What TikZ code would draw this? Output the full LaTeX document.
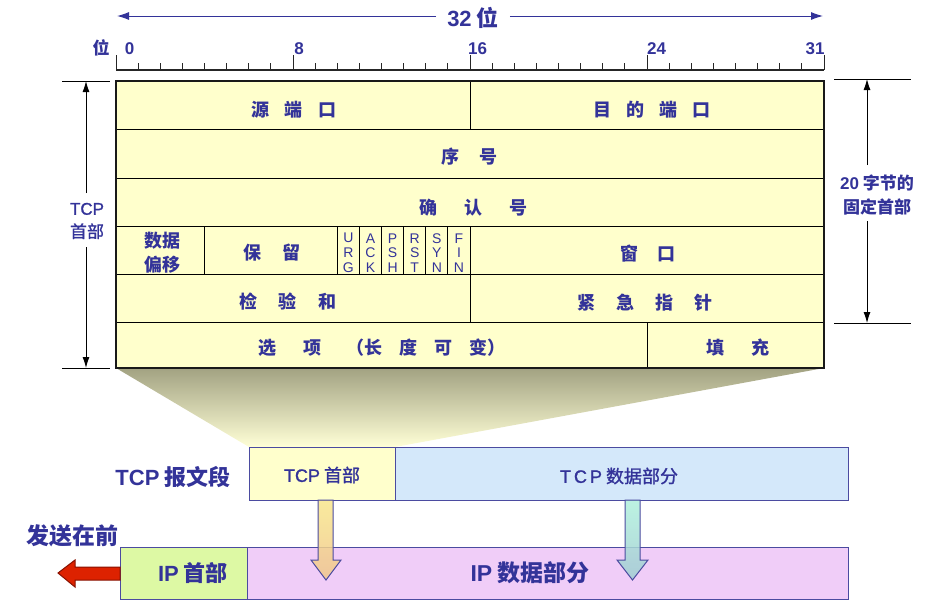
\documentclass[tikz,border=0pt]{standalone}
\usepackage{fontspec}
\setmainfont{Noto Sans CJK SC}
\newfontfamily\lat{Liberation Sans}
\newfontfamily\medfont{Noto Sans CJK SC}[FakeBold=1.2]
\newfontfamily\latmed{Liberation Sans}[FakeBold=1.2]
\usetikzlibrary{arrows.meta,calc}
\definecolor{tblue}{HTML}{333399}
\definecolor{cellfill}{HTML}{FFFFCC}
\definecolor{boxline}{HTML}{4B4BA0}
\definecolor{tcpdata}{HTML}{D4E8FA}
\definecolor{iphead}{HTML}{DDF9A4}
\definecolor{ipdata}{HTML}{F0CDF8}
\definecolor{shadowtop}{HTML}{A2A282}
\definecolor{redfill}{HTML}{DD2200}
\definecolor{redline}{HTML}{881100}
\definecolor{orgtop}{RGB}{248,230,140}
\definecolor{orgbot}{RGB}{240,198,140}
\definecolor{cyntop}{RGB}{176,240,220}
\definecolor{cynbot}{RGB}{160,205,210}
\tikzset{
  lbl/.style={text=tblue, inner sep=0pt, font=\bfseries\fontsize{18}{20}\selectfont},
  flag/.style={text=tblue, inner sep=0pt, align=center, font=\lat\fontsize{14}{14.8}\selectfont},
  tline/.style={line width=1pt, black},
  dimline/.style={line width=0.9pt, black},
  dimarrow/.style={line width=0.9pt, black, -{Latex[length=11pt,width=7pt]}},
  bitarrow/.style={line width=1pt, tblue, -{Latex[length=12pt,width=8pt]}},
  segbox/.style={draw=boxline, line width=1.2pt, inner sep=0pt, anchor=north west},
  blockarrow/.style={draw=boxline, line width=1pt, fill opacity=0.85},
}
\begin{document}
\begin{tikzpicture}[x=1pt,y=-1pt]
\useasboundingbox (0,0) rectangle (936,606);

% ---- top "32 bit" arrow
\node[text=tblue, font=\bfseries\fontsize{22}{24}\selectfont, inner xsep=11pt, inner ysep=0pt] (bits) at (473,18) {{\lat 32} 位};
\coordinate (bitL) at (117,16);
\coordinate (bitR) at (823,16);
\draw[bitarrow] (bits.west |- bitL) -- (bitL);
\draw[bitarrow] (bits.east |- bitR) -- (bitR);

% ---- ruler
\draw[line width=1.2pt, black!85] (116,70) -- (824,70);
\foreach \i in {0,...,32}{
  \pgfmathsetmacro{\xx}{116+22.125*\i}
  \pgfmathparse{int(mod(\i,8))}
  \ifnum\pgfmathresult=0
    \draw[line width=1pt, black!85] (\xx,55) -- (\xx,70);
  \else
    \draw[line width=1pt, black!85] (\xx,63) -- (\xx,70);
  \fi
}
\node[lbl, font=\bfseries\fontsize{17}{19}\selectfont] (wei) at (101,48) {位};
\node[lbl, font=\lat\bfseries\fontsize{17}{19}\selectfont] (b0) at (129.5,49) {0};
\node[lbl, font=\lat\bfseries\fontsize{17}{19}\selectfont] (b8) at (299,49) {8};
\node[lbl, font=\lat\bfseries\fontsize{17}{19}\selectfont] (b16) at (477.5,49) {16};
\node[lbl, font=\lat\bfseries\fontsize{17}{19}\selectfont] (b24) at (656.5,49) {24};
\node[lbl, font=\lat\bfseries\fontsize{17}{19}\selectfont] (b31) at (815,49) {31};

% ---- shadow funnel
\shade[top color=shadowtop, bottom color=cellfill!80!white] (116,368) -- (824,368) -- (395,447) -- (249,447) -- cycle;

% ---- header table
\fill[cellfill] (116,81) rectangle (824,368);
\foreach \yy in {129,178,226,274,322}{\draw[tline] (116,\yy) -- (824,\yy);}
\draw[tline] (470,81) -- (470,129);
\foreach \xx in {204.5,337.25,359.4,381.5,403.6,425.75,447.9}{\draw[tline] (\xx,226) -- (\xx,274);}
\draw[tline] (470,226) -- (470,322);
\draw[tline] (647,322) -- (647,368);
\draw[line width=2.2pt, black!90] (116,81) rectangle (824,368);

\node[lbl] (src) at (294,110) {源\hspace{16pt}端\hspace{16pt}口};
\node[lbl] (dst) at (652,110) {目\hspace{15pt}的\hspace{15pt}端\hspace{15pt}口};
\node[lbl] (seq) at (469,157) {序\hspace{20pt}号};
\node[lbl] (ack) at (473,208) {确\hspace{27pt}认\hspace{27pt}号};
\node[lbl, align=center, font=\bfseries\fontsize{18}{24}\selectfont] (doff) at (162,253) {数据\\偏移};
\node[lbl] (resv) at (272,253) {保\hspace{21pt}留};
\node[flag] (fU) at (348.4,253) {U\\R\\G};
\node[flag] (fA) at (370.5,253) {A\\C\\K};
\node[flag] (fP) at (392.6,253) {P\\S\\H};
\node[flag] (fR) at (414.7,253) {R\\S\\T};
\node[flag] (fS) at (436.8,253) {S\\Y\\N};
\node[flag] (fF) at (459,253) {F\\I\\N};
\node[lbl] (win) at (648,254) {窗\hspace{19pt}口};
\node[lbl] (csum) at (288,302) {检\hspace{22pt}验\hspace{22pt}和};
\node[lbl] (urgp) at (645,303) {紧\hspace{21pt}急\hspace{21pt}指\hspace{21pt}针};
\node[lbl] (opts) at (382,348) {选\hspace{27pt}项\hspace{26pt}（长\hspace{17pt}度\hspace{17pt}可\hspace{17pt}变）};
\node[lbl] (pad) at (737.5,348) {填\hspace{27pt}充};

% ---- left dimension: TCP header
\node[text=tblue, align=center, inner sep=0pt, font=\medfont\fontsize{17}{23}\selectfont] (tcplab) at (87,221) {{\latmed TCP}\\首部};
\coordinate (lt) at (86,81);
\coordinate (lb) at (86,368);
\coordinate (ltg) at (86,193);
\coordinate (lbg) at (86,247);
\draw[dimline] (62,81) -- (110,81);
\draw[dimline] (62,368) -- (110,368);
\draw[dimarrow] (ltg) -- (lt);
\draw[dimarrow] (lbg) -- (lb);

% ---- right dimension: 20 bytes
\node[text=tblue, align=center, inner sep=0pt, font=\bfseries\fontsize{17}{24}\selectfont] (fixlab) at (877,195) {{\lat 20} 字节的\\固定首部};
\coordinate (rt) at (867,79);
\coordinate (rb) at (867,323);
\coordinate (rtg) at (867,165);
\coordinate (rbg) at (867,221);
\draw[dimline] (834,79) -- (911,79);
\draw[dimline] (834,323) -- (911,323);
\draw[dimarrow] (rtg) -- (rt);
\draw[dimarrow] (rbg) -- (rb);

% ---- TCP segment
\node[segbox, fill=cellfill, minimum width=146pt, minimum height=53pt] (tcph) at (249,447) {};
\node[segbox, fill=tcpdata, minimum width=453pt, minimum height=53pt] (tcpd) at (395,447) {};
\node[text=tblue, inner sep=0pt, font=\medfont\fontsize{18}{20}\selectfont] (tcphl) at (322,475) {{\latmed TCP} 首部};
\node[text=tblue, inner sep=0pt, font=\medfont\fontsize{18}{20}\selectfont] (tcpdl) at (619,476) {{\latmed T\,C\,P} 数据部分};
\node[text=tblue, inner sep=0pt, font=\bfseries\fontsize{22}{24}\selectfont] (seglab) at (173,477) {{\lat TCP} 报文段};

% ---- IP datagram
\node[segbox, fill=iphead, minimum width=127pt, minimum height=52pt] (iph) at (120,547) {};
\node[segbox, fill=ipdata, minimum width=601pt, minimum height=52pt] (ipd) at (247,547) {};
\node[text=tblue, inner sep=0pt, font=\bfseries\fontsize{22}{24}\selectfont] (iphl) at (193,573) {{\lat IP} 首部};
\node[text=tblue, inner sep=0pt, font=\bfseries\fontsize{23}{25}\selectfont] (ipdl) at (530,573) {{\lat IP} 数据部分};

% ---- block arrows
\draw[blockarrow, top color=orgtop, bottom color=orgbot]
  (318,500) -- (333,500) -- (333,560) -- (341,560) -- (326,580) -- (311,560) -- (318,560) -- cycle;
\draw[blockarrow, top color=cyntop, bottom color=cynbot]
  (625,500) -- (640,500) -- (640,560) -- (648,560) -- (632.5,580) -- (617,560) -- (625,560) -- cycle;

% ---- send first
\node[text=tblue, inner sep=0pt, font=\bfseries\fontsize{23}{25}\selectfont] (first) at (72,536) {发送在前};
\draw[fill=redfill, draw=redline, line width=1pt]
  (120,567) -- (75,567) -- (75,560) -- (58,573) -- (75,587) -- (75,580) -- (120,580) -- cycle;
\end{tikzpicture}
\end{document}
